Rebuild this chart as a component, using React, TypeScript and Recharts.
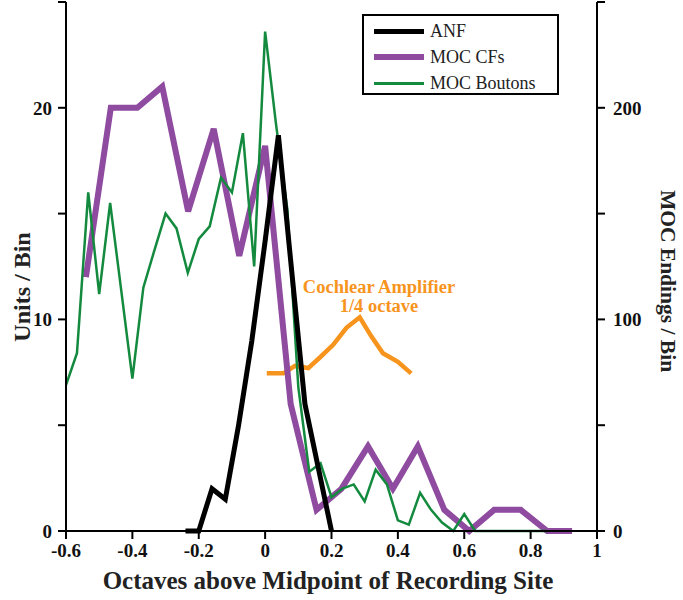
import React from 'react';
import { LineChart, Line, XAxis, YAxis, Label } from 'recharts';

// ANF (black), left axis
const anfOct = [-0.24, -0.2, -0.16, -0.12, -0.08, -0.04, 0, 0.04, 0.08, 0.12, 0.16, 0.2];
const anfUnits = [0, 0, 2, 1.5, 5, 9, 13.7, 18.7, 12.3, 6, 3, 0];

// MOC CFs (purple), left axis
const cfOct = [-0.54, -0.465, -0.385, -0.31, -0.232, -0.155, -0.078, 0, 0.077, 0.155, 0.23, 0.31, 0.385, 0.46, 0.54, 0.615, 0.69, 0.77, 0.85, 0.925];
const cfUnits = [12, 20, 20, 21, 15.1, 19, 13, 18.2, 6, 1, 2, 4, 2, 4, 1, 0, 1, 1, 0, 0];

// MOC boutons (green), right axis
const boutonOct = [
  -0.6, -0.567, -0.533, -0.5, -0.467, -0.433, -0.4, -0.367, -0.333, -0.3,
  -0.267, -0.233, -0.2, -0.167, -0.133, -0.1, -0.067, -0.033, 0, 0.033,
  0.067, 0.1, 0.133, 0.167, 0.2, 0.233, 0.267, 0.3, 0.333, 0.367,
  0.4, 0.433, 0.467, 0.5, 0.533, 0.567, 0.6, 0.633, 0.667, 0.7,
  0.733, 0.767, 0.8, 0.85,
];
const boutonEndings = [
  69, 84, 160, 112, 155, 113, 72, 115, 133, 150,
  143, 122, 138, 144, 167, 160, 188, 125, 236, 192,
  152, 68, 28, 32, 16, 20, 22, 14, 29, 22,
  5, 3, 18, 10, 4, 0, 8, 0, 0, 0,
  0, 0, 0, 0,
];

// Cochlear amplifier curve (orange), left axis
const ampOct = [0.005, 0.055, 0.09, 0.13, 0.165, 0.205, 0.245, 0.285, 0.32, 0.355, 0.4, 0.44];
const ampUnits = [7.45, 7.45, 7.8, 7.7, 8.2, 8.8, 9.6, 10.1, 9.2, 8.4, 8.0, 7.45];

const xTicks = [-0.6, -0.4, -0.2, 0, 0.2, 0.4, 0.6, 0.8, 1];
const leftTicks = [0, 5, 10, 15, 20, 25];
const rightTicks = [0, 50, 100, 150, 200, 250];

const pairs = (xs: number[], ys: number[]) => xs.map((x, i) => ({ x, y: ys[i] }));

const anfData = pairs(anfOct, anfUnits);
const cfData = pairs(cfOct, cfUnits);
const boutonData = pairs(boutonOct, boutonEndings);
const ampData = pairs(ampOct, ampUnits);

const SERIF = '"Liberation Serif", "Times New Roman", serif';
const PURPLE = '#8E4B9F';
const GREEN = '#148A3F';
const ORANGE = '#F7941D';

const tickStyle = { fontFamily: SERIF, fontSize: 19, fontWeight: 700, fill: '#111' };
const titleStyle = { fontFamily: SERIF, fontSize: 24, fontWeight: 700, fill: '#222' };

const legendItems = [
  { name: 'ANF', color: '#000', width: 5 },
  { name: 'MOC CFs', color: PURPLE, width: 6 },
  { name: 'MOC Boutons', color: GREEN, width: 3 },
];

const noteLines = ['Cochlear Amplifier', '1/4 octave'];

export default function App() {
  return (
    <div style={{ position: 'relative', width: 683, height: 600 }}>
      <style>{`body { margin: 0; }`}</style>
      <LineChart width={683} height={600} margin={{ top: 2, right: 0, bottom: 0, left: 0 }}>
        <XAxis
          dataKey="x"
          type="number"
          domain={[-0.6, 1]}
          ticks={xTicks}
          allowDataOverflow
          height={69}
          tickSize={8}
          tickMargin={5}
          tick={tickStyle}
          axisLine={{ stroke: '#000', strokeWidth: 2 }}
          tickLine={{ stroke: '#000', strokeWidth: 2 }}
          tickFormatter={(v: number) => String(v)}
        >
          <Label
            content={({ viewBox }: any) => (
              <text x={viewBox.x + 262} y={viewBox.y + 58} textAnchor="middle" style={{ ...titleStyle, fontSize: 25 }}>
                Octaves above Midpoint of Recording Site
              </text>
            )}
          />
        </XAxis>
        <YAxis
          yAxisId="left"
          orientation="left"
          type="number"
          domain={[0, 25]}
          ticks={leftTicks}
          width={66}
          tickSize={8}
          tickMargin={6}
          tick={tickStyle}
          axisLine={{ stroke: '#000', strokeWidth: 2 }}
          tickLine={{ stroke: '#000', strokeWidth: 2 }}
          tickFormatter={(v: number) => (v % 10 === 0 && v < 25 ? String(v) : '')}
        >
          <Label
            content={({ viewBox }: any) => {
              const cx = viewBox.x + 22;
              const cy = 287;
              return (
                <text x={cx} y={cy} textAnchor="middle" dominantBaseline="central" transform={`rotate(-90 ${cx} ${cy})`} style={titleStyle}>
                  Units / Bin
                </text>
              );
            }}
          />
        </YAxis>
        <YAxis
          yAxisId="right"
          orientation="right"
          type="number"
          domain={[0, 250]}
          ticks={rightTicks}
          width={86}
          tickSize={8}
          tickMargin={8}
          tick={tickStyle}
          axisLine={{ stroke: '#000', strokeWidth: 2 }}
          tickLine={{ stroke: '#000', strokeWidth: 2 }}
          tickFormatter={(v: number) => (v % 100 === 0 ? String(v) : '')}
        >
          <Label
            content={({ viewBox }: any) => {
              const cx = viewBox.x + 71;
              const cy = 281;
              return (
                <text x={cx} y={cy} textAnchor="middle" dominantBaseline="central" transform={`rotate(90 ${cx} ${cy})`} style={{ ...titleStyle, fontSize: 21.5 }}>
                  MOC Endings / Bin
                </text>
              );
            }}
          />
        </YAxis>

        <Line yAxisId="left" data={ampData} dataKey="y" type="linear" stroke={ORANGE} strokeWidth={4.5} dot={false} isAnimationActive={false} />
        <Line yAxisId="left" data={cfData} dataKey="y" type="linear" stroke={PURPLE} strokeWidth={6} dot={false} isAnimationActive={false} />
        <Line yAxisId="right" data={boutonData} dataKey="y" type="linear" stroke={GREEN} strokeWidth={2.5} dot={false} isAnimationActive={false} />
        <Line yAxisId="left" data={anfData} dataKey="y" type="linear" stroke="#000" strokeWidth={5} dot={false} isAnimationActive={false} />
      </LineChart>

      {/* legend box */}
      <div
        style={{
          position: 'absolute',
          left: 362,
          top: 14,
          width: 193,
          height: 77,
          border: '2px solid #000',
          background: '#fff',
          fontFamily: SERIF,
          fontSize: 18,
          color: '#222',
        }}
      >
        {legendItems.map((it, i) => (
          <div key={it.name} style={{ position: 'absolute', left: 10, top: 4 + i * 26, height: 22, display: 'flex', alignItems: 'center' }}>
            <div style={{ width: 50, height: it.width, background: it.color, marginRight: 6 }} />
            <span>{it.name}</span>
          </div>
        ))}
      </div>

      {/* annotation */}
      {noteLines.map((t, i) => (
        <div
          key={t}
          style={{
            position: 'absolute',
            left: 279,
            top: 278 + i * 19,
            width: 200,
            height: 19,
            textAlign: 'center',
            fontFamily: SERIF,
            fontSize: 18.5,
            fontWeight: 700,
            lineHeight: '19px',
            color: ORANGE,
          }}
        >
          {t}
        </div>
      ))}
    </div>
  );
}
